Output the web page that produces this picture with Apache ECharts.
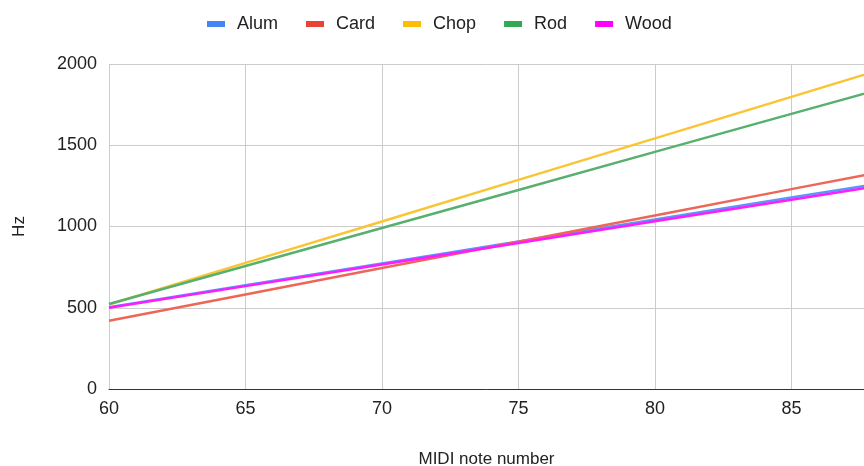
<!DOCTYPE html>
<html>
<head>
<meta charset="utf-8">
<script src="https://cdn.jsdelivr.net/npm/echarts@6/dist/echarts.min.js"></script>
<style>
  html, body { margin: 0; padding: 0; background: #ffffff; }
  #chart { width: 864px; height: 466px; }
</style>
</head>
<body>
<div id="chart"></div>
<script>
// MIDI note numbers where each series was sampled
const notes = [60, 65, 70, 75, 80, 85, 88];

// Frequencies (Hz) per material
const alum = [503, 638, 773, 908, 1043, 1178, 1259];
const card = [420, 582, 744, 906, 1068, 1230, 1327];
const chop = [520, 776, 1031, 1287, 1542, 1798, 1951];
const rod  = [523, 757, 991, 1225, 1459, 1693, 1833];
const wood = [500, 633, 766, 899, 1032, 1165, 1245];

const seriesNames = ['Alum', 'Card', 'Chop', 'Rod', 'Wood'];
const seriesValues = [alum, card, chop, rod, wood];
const keyColors  = ['#4285F4', '#EA4335', '#FBBC04', '#34A853', '#FF00FF'];
const lineColors = ['#5B95F5', '#EE6658', '#F9C535', '#58B06F', '#FF1AFF'];

const FONT = '"Liberation Sans", Arial, sans-serif';

const chart = echarts.init(document.getElementById('chart'), null, { renderer: 'canvas' });

chart.setOption({
  animation: false,
  backgroundColor: '#ffffff',
  textStyle: { fontFamily: FONT },
  legend: {
    top: 10,
    left: 202,
    icon: 'rect',
    itemWidth: 18,
    itemHeight: 6,
    itemGap: 28,
    textStyle: { fontFamily: FONT, fontSize: 18, color: '#222222', padding: [0, 0, 0, 7] },
    data: seriesNames.map((n, i) => ({ name: n, itemStyle: { color: keyColors[i] } }))
  },
  grid: {
    left: 109, right: 0, top: 64, bottom: 77,
    containLabel: false,
    outerBoundsMode: 'none'
  },
  xAxis: {
    type: 'value',
    min: 60,
    max: 87.66,
    interval: 5,
    name: 'MIDI note number',
    nameLocation: 'middle',
    nameGap: 62,
    nameTextStyle: { fontFamily: FONT, fontSize: 17, color: '#222222' },
    axisLine: { show: true, lineStyle: { color: '#333333', width: 1 } },
    axisTick: { show: false },
    axisLabel: {
      fontFamily: FONT, fontSize: 18, color: '#222222', margin: 11,
      showMaxLabel: false,
      formatter: (v) => String(v)
    },
    splitLine: { show: true, lineStyle: { color: '#cccccc', width: 1 } }
  },
  yAxis: {
    type: 'value',
    min: 0,
    max: 2000,
    interval: 500,
    name: 'Hz',
    nameLocation: 'middle',
    nameGap: 81,
    nameTextStyle: { fontFamily: FONT, fontSize: 17, color: '#222222' },
    axisLine: { show: false },
    axisTick: { show: false },
    axisLabel: {
      fontFamily: FONT, fontSize: 18, color: '#222222', margin: 12,
      formatter: (v) => String(v)
    },
    splitLine: { show: true, lineStyle: { color: '#cccccc', width: 1 } }
  },
  series: seriesNames.map((n, i) => ({
    name: n,
    type: 'line',
    data: notes.map((x, j) => [x, seriesValues[i][j]]),
    showSymbol: false,
    symbol: 'none',
    clip: true,
    itemStyle: { color: keyColors[i] },
    lineStyle: { color: lineColors[i], width: 2.5 },
    emphasis: { disabled: true }
  }))
});
</script>
</body>
</html>
